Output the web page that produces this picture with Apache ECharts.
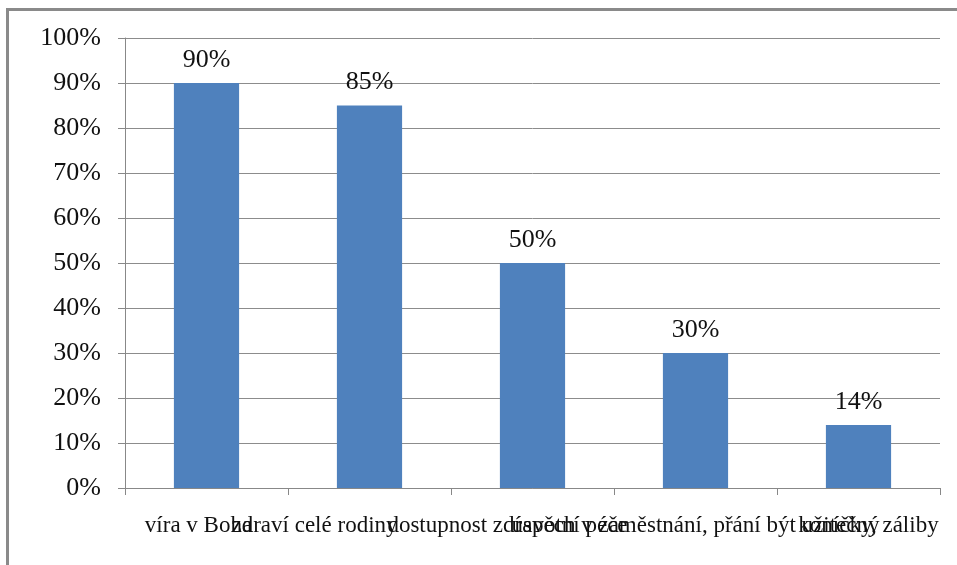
<!DOCTYPE html>
<html>
<head>
<meta charset="utf-8">
<script src="https://cdn.jsdelivr.net/npm/echarts@6/dist/echarts.min.js"></script>
<style>
  html, body { margin: 0; padding: 0; background: #fff; }
  #frame { position: absolute; left: 6px; top: 8px; width: 960px; height: 570px;
           border-top: 3px solid #8a8a8a; border-left: 3px solid #8a8a8a; box-sizing: border-box; }
  #chart { position: absolute; left: 0; top: 0; width: 957px; height: 565px; }
</style>
</head>
<body>
<div id="frame"></div>
<div id="chart"></div>
<script>
// kategorie a hodnoty (v %)
var categories = [
  'víra v Boha',
  'zdraví celé rodiny',
  'dostupnost zdravotní péče',
  'úspěch v zaměstnání, přání být užitečný',
  'koníčky, záliby'
];
var values = [90, 85, 50, 30, 14];
var yTicks = [0, 10, 20, 30, 40, 50, 60, 70, 80, 90, 100];

// posun popisku (px), zaporny = doleva - popisky se v originale prekryvaji
var labelShift = [-8, -55, -25, 0, 10];

var chart = echarts.init(document.getElementById('chart'));

var rich = {};
labelShift.forEach(function (s, i) {
  rich['c' + i] = {
    fontFamily: 'Liberation Serif',
    fontSize: 23,
    color: '#111',
    padding: s < 0 ? [0, -2 * s, 0, 0] : [0, 0, 0, 2 * s]
  };
});

var option = {
  animation: false,
  grid: { left: 125, right: 17, top: 38, bottom: 77 },
  xAxis: {
    type: 'category',
    data: categories,
    axisLine: { lineStyle: { color: '#888', width: 1 } },
    axisTick: { show: true, length: 7, lineStyle: { color: '#888' } },
    axisLabel: {
      interval: 0,
      margin: 26,
      formatter: function (val, idx) {
        return '{c' + idx + '|' + val + '}';
      },
      rich: rich
    }
  },
  yAxis: {
    type: 'value',
    min: yTicks[0],
    max: yTicks[yTicks.length - 1],
    interval: 10,
    axisLine: { show: true, lineStyle: { color: '#888' } },
    axisTick: { show: true, length: 7, lineStyle: { color: '#888' } },
    splitLine: { lineStyle: { color: '#8c8c8c', width: 1 } },
    axisLabel: {
      formatter: '{value}%',
      margin: 24,
      fontFamily: 'Liberation Serif',
      fontSize: 26,
      color: '#111'
    }
  },
  series: [{
    type: 'bar',
    data: values,
    barWidth: '40%',
    itemStyle: { color: '#4f81bd' },
    label: {
      show: true,
      position: 'top',
      distance: 10,
      formatter: '{c}%',
      fontFamily: 'Liberation Serif',
      fontSize: 26,
      color: '#111'
    }
  }]
};
chart.setOption(option);
</script>
</body>
</html>
